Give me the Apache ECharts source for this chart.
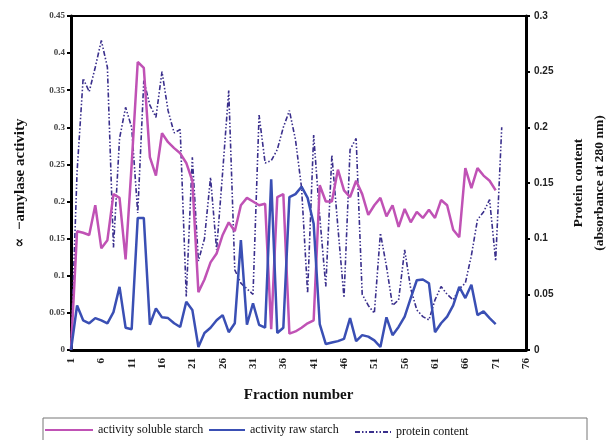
<!DOCTYPE html>
<html>
<head>
<meta charset="utf-8">
<script src="https://cdn.jsdelivr.net/npm/echarts@6/dist/echarts.min.js"></script>
<style>
    html, body { margin: 0; padding: 0; background: #fff; }
    #container { width: 607px; height: 440px; }
</style>
</head>
<body>
<div id="container"></div>
<script>
// fraction numbers 1..76
var fractions = [];
for (var i = 1; i <= 76; i++) fractions.push(String(i));

// activity soluble starch (left axis)
var solubleStarch = [0, 0.16, 0.158, 0.155, 0.195, 0.137, 0.148, 0.21, 0.205, 0.122,
    0.25, 0.388, 0.38, 0.26, 0.235, 0.292, 0.28, 0.272, 0.265, 0.252,
    0.228, 0.078, 0.095, 0.118, 0.13, 0.155, 0.172, 0.16, 0.195, 0.205,
    0.2, 0.195, 0.197, 0.028, 0.206, 0.21, 0.022, 0.025, 0.03, 0.036,
    0.04, 0.222, 0.2, 0.2, 0.243, 0.215, 0.206, 0.228, 0.21, 0.182,
    0.195, 0.205, 0.18, 0.195, 0.166, 0.19, 0.172, 0.186, 0.178, 0.189,
    0.178, 0.202, 0.195, 0.162, 0.152, 0.245, 0.218, 0.245, 0.235, 0.228, 0.215];

// activity raw starch (left axis)
var rawStarch = [0, 0.06, 0.04, 0.036, 0.043, 0.04, 0.036, 0.051, 0.085, 0.03,
    0.028, 0.178, 0.178, 0.034, 0.056, 0.044, 0.043, 0.036, 0.031, 0.065,
    0.054, 0.004, 0.023, 0.03, 0.04, 0.047, 0.024, 0.036, 0.148, 0.034,
    0.063, 0.034, 0.03, 0.23, 0.023, 0.03, 0.206, 0.21, 0.22, 0.205,
    0.17, 0.035, 0.008, 0.01, 0.012, 0.015, 0.043, 0.012, 0.02, 0.018,
    0.013, 0.004, 0.044, 0.02, 0.031, 0.045, 0.07, 0.094, 0.095, 0.09,
    0.024, 0.036, 0.045, 0.06, 0.085, 0.07, 0.088, 0.047, 0.052, 0.043, 0.035];

// protein content, absorbance at 280 nm (right axis)
var proteinContent = [0, 0.16, 0.244, 0.232, 0.254, 0.278, 0.254, 0.092, 0.19, 0.218,
    0.2, 0.123, 0.242, 0.22, 0.209, 0.25, 0.215, 0.195, 0.198, 0.048,
    0.173, 0.08, 0.1, 0.155, 0.09, 0.16, 0.233, 0.072, 0.06, 0.055,
    0.05, 0.211, 0.168, 0.17, 0.18, 0.2, 0.215, 0.189, 0.146, 0.051,
    0.193, 0.12, 0.057, 0.175, 0.11, 0.047, 0.18, 0.19, 0.05, 0.04,
    0.033, 0.105, 0.075, 0.04, 0.045, 0.09, 0.055, 0.036, 0.03, 0.027,
    0.045, 0.057, 0.05, 0.045, 0.055, 0.06, 0.085, 0.117, 0.124, 0.135,
    0.08, 0.2];

var serif = '"Liberation Serif", "DejaVu Serif", serif';
var sans = '"Liberation Sans", Arial, sans-serif';

var legendText = { fontFamily: serif, fontSize: 12, color: '#111' };
// hide the legend symbol, keep only the line sample
var legendItem = { opacity: 0 };

var option = {
    backgroundColor: '#fff',
    animation: false,
    grid: {
        left: 71, right: 81, top: 16, bottom: 90,
        outerBoundsMode: 'none',
        containLabel: false,
        show: true, borderColor: '#000', borderWidth: 2, backgroundColor: '#fff'
    },
    graphic: [{
        type: 'rect',
        shape: { x: 43, y: 418, width: 544, height: 30 },
        style: { fill: '#fff', stroke: '#777', lineWidth: 1 },
        z: -1
    }],
    legend: [
        { data: ['activity soluble starch'], left: 44, top: 424, padding: 0, itemWidth: 48, itemHeight: 10, itemGap: 0, itemStyle: legendItem, textStyle: legendText },
        { data: ['activity raw starch'], left: 208, top: 424, padding: 0, itemWidth: 36, itemHeight: 10, itemGap: 0, itemStyle: legendItem, textStyle: legendText },
        { data: ['protein content'], left: 354, top: 426, padding: 0, itemWidth: 36, itemHeight: 10, itemGap: 0, itemStyle: legendItem,
            textStyle: { fontFamily: serif, fontSize: 12, color: '#111', verticalAlign: 'bottom' } }
    ],
    xAxis: {
        type: 'category',
        data: fractions,
        boundaryGap: false,
        name: 'Fraction number',
        nameLocation: 'middle',
        nameGap: 38,
        nameTextStyle: { fontFamily: serif, fontWeight: 'bold', fontSize: 15, color: '#111' },
        axisLine: { lineStyle: { color: '#000', width: 3 } },
        axisTick: { show: false },
        axisLabel: {
            interval: 4, rotate: 90, margin: 8,
            fontFamily: serif, fontWeight: 'bold', fontSize: 11, color: '#222'
        },
        splitLine: { show: false }
    },
    yAxis: [{
        type: 'value',
        min: 0, max: 0.45, interval: 0.05,
        name: '\u221d  \u2212amylase activity',
        nameLocation: 'middle',
        nameRotate: 90,
        nameGap: 43,
        nameTextStyle: { fontFamily: serif, fontWeight: 'bold', fontSize: 15, color: '#111' },
        axisLine: { show: true, lineStyle: { color: '#000', width: 3 } },
        axisTick: { show: true, length: 4, lineStyle: { color: '#000', width: 2 } },
        axisLabel: { fontFamily: serif, fontWeight: 'bold', fontSize: 9, color: '#444', margin: 6 },
        splitLine: { show: false }
    }, {
        type: 'value',
        position: 'right',
        min: 0, max: 0.3, interval: 0.05,
        name: 'Protein content\n(absorbance at 280 nm)',
        nameLocation: 'middle',
        nameRotate: 90,
        nameGap: 42,
        nameTextStyle: { fontFamily: serif, fontWeight: 'bold', fontSize: 13.5, color: '#111', lineHeight: 21 },
        axisLine: { show: true, lineStyle: { color: '#000', width: 3 } },
        axisTick: { show: true, length: 4, lineStyle: { color: '#000', width: 2 } },
        axisLabel: { fontFamily: sans, fontWeight: 'bold', fontSize: 10, color: '#222', margin: 8 },
        splitLine: { show: false }
    }],
    series: [{
        name: 'activity soluble starch',
        type: 'line',
        data: solubleStarch,
        symbol: 'none',
        lineStyle: { color: '#c052b5', width: 2.5 },
        itemStyle: { color: '#c052b5' },
        z: 3
    }, {
        name: 'activity raw starch',
        type: 'line',
        data: rawStarch,
        symbol: 'none',
        lineStyle: { color: '#3a4fb4', width: 2.5 },
        itemStyle: { color: '#3a4fb4' },
        z: 4
    }, {
        name: 'protein content',
        type: 'line',
        yAxisIndex: 1,
        data: proteinContent,
        symbol: 'none',
        lineStyle: { color: '#3a2f8c', width: 1.6, type: [5, 2, 1.5, 2, 1.5, 2] },
        itemStyle: { color: '#3a2f8c' },
        z: 2
    }]
};

echarts.init(document.getElementById('container')).setOption(option);
</script>
</body>
</html>
